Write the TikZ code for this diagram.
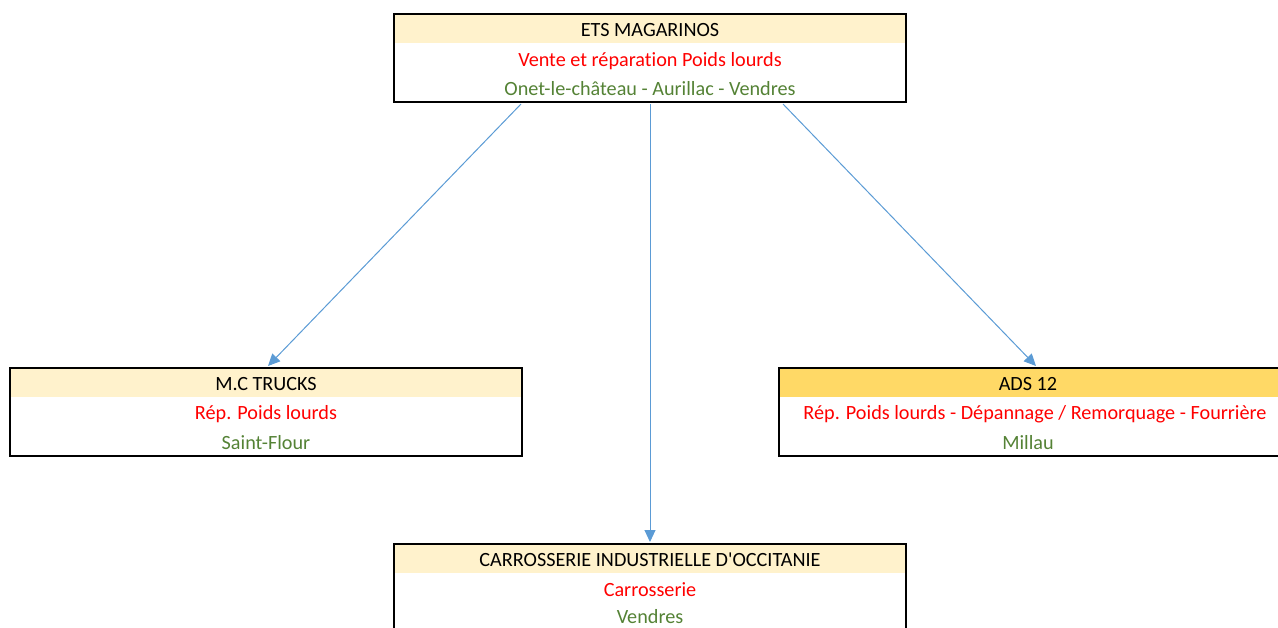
\documentclass[tikz,border=0pt]{standalone}
\usepackage{fontspec}
\setmainfont{Carlito}[Ligatures={TeXOff,NoCommon}]
\usetikzlibrary{arrows.meta,calc}
\definecolor{hdr}{HTML}{FFF2CC}
\definecolor{hdrgold}{HTML}{FFD966}
\definecolor{txtred}{HTML}{FF0000}
\definecolor{txtgreen}{HTML}{548235}
\definecolor{arr}{HTML}{5B9BD5}
\tikzset{
  box/.style={draw=black, line width=2pt, rectangle, inner sep=0pt,
    minimum width=512pt, minimum height=88pt,
    path picture={\fill[#1] ([yshift=-1pt]path picture bounding box.north west) rectangle ([yshift=-29pt]path picture bounding box.north east);}},
  box/.default=hdr,
  txt/.style={inner sep=0pt, anchor=base, font=\fontsize{20.2}{24}\selectfont},
  ttl/.style={txt, text=black},
  act/.style={txt, text=txtred},
  loc/.style={txt, text=txtgreen},
  link/.style={draw=arr, line width=1pt, -{Triangle[length=12pt,width=11pt]}}
}
\begin{document}
\begin{tikzpicture}[x=1pt,y=-1pt]
\useasboundingbox (0,0) rectangle (1278,627);
% boxes
\node[box] (top) at (650,58) {};
\node[box] (mc) at (266,412) {};
\node[box=hdrgold, minimum width=500pt] (ads) at (1029,412) {};
\node[box] (cio) at (650,588) {};
% texts
\node[ttl] (topa) at (650,36) {ETS MAGARINOS};
\node[act] (topb) at (650,66) {Vente et réparation Poids lourds};
\node[loc] (topc) at (650,95) {Onet-le-château - Aurillac - Vendres};
\node[ttl] (mca) at (266,390) {M.C TRUCKS};
\node[act] (mcb) at (266,419) {Rép. Poids lourds};
\node[loc] (mcc) at (266,449) {Saint-Flour};
\node[ttl] (adsa) at (1028,390) {ADS 12};
\node[act] (adsb) at (1035,419) {Rép. Poids lourds - Dépannage / Remorquage - Fourrière};
\node[loc] (adsc) at (1028,449) {Millau};
\node[ttl] (cioa) at (650,566) {CARROSSERIE INDUSTRIELLE D'OCCITANIE};
\node[act] (ciob) at (650,596) {Carrosserie};
\node[loc] (cioc) at (650,623.5) {Vendres};
% connectors
\coordinate (s1) at ([xshift=128pt,yshift=-1pt]top.south west);
\coordinate (s3) at ([xshift=-124pt,yshift=-1pt]top.south east);
\draw[link] (s1) -- ([xshift=2pt,yshift=1pt]mc.north);
\draw[link] ([yshift=-1pt]top.south) -- ([yshift=1pt]cio.north);
\draw[link] (s3) -- ([xshift=7pt,yshift=1pt]ads.north);
\end{tikzpicture}
\end{document}
